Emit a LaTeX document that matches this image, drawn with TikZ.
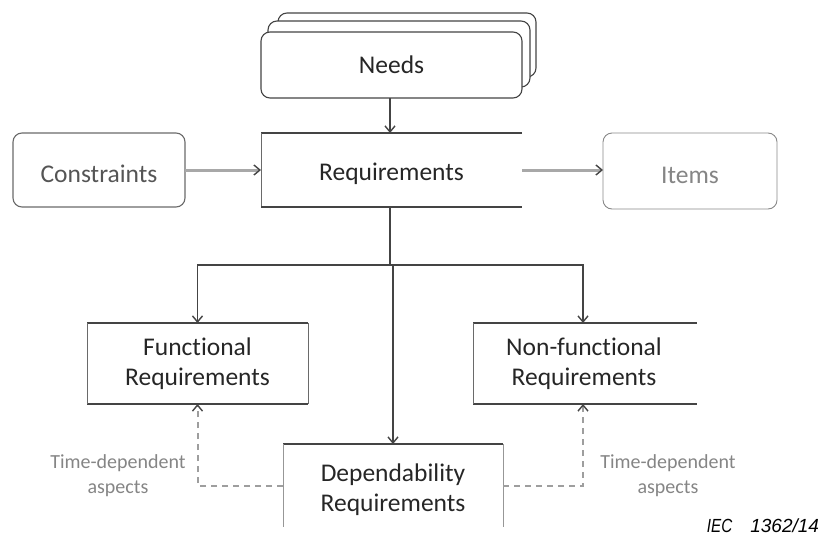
\documentclass[tikz,border=0pt]{standalone}
\usepackage{fontspec}
\setmainfont[Ligatures=NoCommon]{Carlito}
\newfontfamily\iecfont{Liberation Sans}
\usetikzlibrary{arrows.meta}
\definecolor{edgedark}{HTML}{444444}
\definecolor{edgemid}{HTML}{6A6A6A}
\definecolor{flowgray}{HTML}{A8A8A8}
\definecolor{dashgray}{HTML}{9E9E9E}
\definecolor{textdark}{HTML}{262626}
\definecolor{textmid}{HTML}{555555}
\definecolor{textlight}{HTML}{858585}
% a tall invisible strut that pushes a label down inside its box
\newcommand{\lowerstrut}{\rule{0pt}{26pt}}
\begin{document}
\begin{tikzpicture}[x=1pt,y=-1pt,
  every node/.style={inner sep=0pt, outer sep=0pt},
  lbl/.style={font=\fontsize{25.5}{30}\selectfont, align=center, text=textdark},
  rbox/.style={lbl, draw=edgedark, line width=1.1pt, rounded corners=9pt, fill=white},
  plainbox/.style={lbl},
  sideedge/.style={draw=edgemid, line width=0.9pt},
  capedge/.style={draw=edgedark, line width=2pt},
  tip/.style={-{Straight Barb[length=6pt,width=10pt,line width=1.4pt,color=edgedark]}},
  flow/.style={tip, draw=edgedark, line width=1.3pt},
  feed/.style={tip, draw=flowgray, line width=3pt},
  aspect/.style={tip, draw=dashgray, line width=2pt, dash pattern=on 6pt off 5pt},
  note/.style={font=\fontsize{20}{25}\selectfont, align=center, text=textlight}
]
\useasboundingbox (0,0) rectangle (821,544);

% stacked "Needs" cards, back to front
\draw[draw=edgedark, line width=1.1pt, rounded corners=9pt, fill=white] (278,13) rectangle (536,77);
\draw[draw=edgedark, line width=1.1pt, rounded corners=9pt, fill=white] (268,21) rectangle (530,87);
\node[rbox, minimum width=261pt, minimum height=66pt] (needs) at (391.5,65) {Needs};

% main row
\node[rbox, text=textmid, draw=edgemid, minimum width=172pt, minimum height=74pt] (cons) at (99,170) {\lowerstrut Constraints};
\node[plainbox, minimum width=261pt, minimum height=74pt] (req) at (391.5,170) {\lowerstrut Requirements};
\node[rbox, text=textlight, draw=edgemid!80, line width=0.9pt, minimum width=174pt, minimum height=76pt] (items) at (690,171) {\lowerstrut Items};

% requirement categories
\node[plainbox, minimum width=221pt, minimum height=81pt] (func) at (197.5,363.5) {Functional\\Requirements};
\node[plainbox, minimum width=222pt, minimum height=81pt] (nonf) at (584,363.5) {Non-functional\\Requirements};
\node[plainbox, minimum width=220pt, minimum height=83pt] (dep) at (393,485.5) {\rule{0pt}{27pt}Dependability\\Requirements};

% box outlines (open on one side)
\draw[capedge] (req.north east) -- (req.north west);
\draw[sideedge] (req.north west) -- (req.south west);
\draw[capedge] (req.south west) -- (req.south east);

\draw[capedge] (func.north west) -- (func.north east);
\draw[capedge] (func.south west) -- (func.south east);
\draw[sideedge] (func.north west) -- (func.south west);
\draw[sideedge] (func.north east) -- (func.south east);

\draw[capedge] (nonf.north west) -- ([xshift=2pt]nonf.north east);
\draw[capedge] (nonf.south west) -- ([xshift=2pt]nonf.south east);
\draw[sideedge] (nonf.north west) -- (nonf.south west);

\draw[capedge] (dep.north west) -- (dep.north east);
\draw[sideedge, draw=edgemid!70] (dep.north west) -- (dep.south west);
\draw[sideedge, draw=edgemid!70] (dep.north east) -- (dep.south east);

% connectors
\draw[flow] ([xshift=-1.5pt]needs.south) -- ([xshift=-1.5pt]req.north);
\draw[feed] (cons.east) -- (req.west);
\draw[feed] (req.east) -- (items.west |- req.east);

\coordinate (split) at (390,265);
\draw[draw=edgedark, line width=1.2pt] (req.south -| split) -- (split);
\draw[flow, line width=1.2pt] (split) -| (func.north);
\draw[flow, line width=1.2pt] (split) -| ([xshift=-1pt]nonf.north);
\draw[flow, line width=1.2pt] (dep.north |- split) -- (dep.north);

% time-dependent feedback
\draw[aspect] (dep.west) -| (func.south);
\draw[aspect] (dep.east) -| ([xshift=-1pt]nonf.south);
\node[note] (ltd) at (118,476) {Time-dependent\\aspects};
\node[note] (rtd) at (668,476) {Time-dependent\\aspects};

% figure reference
\node[font=\iecfont\itshape\fontsize{19}{19}\selectfont, anchor=east] (iec) at (819,526) {\scalebox{0.8}[1]{IEC}\hspace{18pt}1362/14};
\end{tikzpicture}
\end{document}
